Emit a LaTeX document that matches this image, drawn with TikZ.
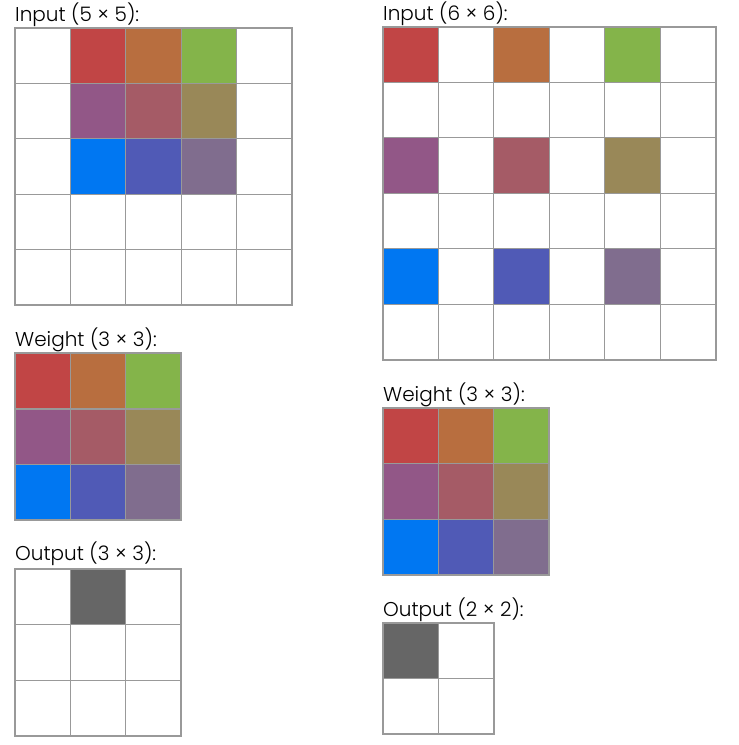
\documentclass[tikz,border=0pt]{standalone}
\usepackage{fontspec}
\IfFontExistsTF{Poppins Light}{\setmainfont{Poppins Light}}{\setmainfont{Poppins}}
\usepackage{xcolor}

\definecolor{gridgray}{HTML}{999999}
\definecolor{cred}{HTML}{C14545}
\definecolor{corange}{HTML}{B86E3F}
\definecolor{cgreen}{HTML}{84B44A}
\definecolor{cpurple}{HTML}{925787}
\definecolor{cmauve}{HTML}{A55B66}
\definecolor{colive}{HTML}{998858}
\definecolor{cblue}{HTML}{0077F2}
\definecolor{cindigo}{HTML}{505AB6}
\definecolor{cplum}{HTML}{806D8E}
\definecolor{cdark}{HTML}{666666}

\tikzset{
  inner line/.style={draw=gridgray, line width=1.3pt},
  outer line/.style={draw=gridgray, line width=2pt},
  caption/.style={anchor=base west, inner sep=0pt, font=\fontsize{20}{20}\selectfont}
}

\begin{document}
\begin{tikzpicture}[x=1pt, y=-1pt]
  \useasboundingbox (0,0) rectangle (739,745);

  % left column: stride 1
  \node[caption] (inA) at (15,21.5) {Input (5 × 5):};
  \begin{scope}[shift={(14.7,27.7)}]
    \foreach \c/\i/\j in {cred/1/0, corange/2/0, cgreen/3/0,
                          cpurple/1/1, cmauve/2/1, colive/3/1,
                          cblue/1/2, cindigo/2/2, cplum/3/2}
      \fill[\c] (\i*55.5,\j*55.5) rectangle ++(55.5,55.5);
    \foreach \k in {1,...,4} {
      \draw[inner line] (\k*55.5,0) -- (\k*55.5,277.5);
      \draw[inner line] (0,\k*55.5) -- (277.5,\k*55.5);
    }
    \draw[outer line] (0,0) rectangle (277.5,277.5);
  \end{scope}

  \node[caption] (wtA) at (15,346.7) {Weight (3 × 3):};
  \begin{scope}[shift={(14.7,353.4)}]
    \foreach \c/\i/\j in {cred/0/0, corange/1/0, cgreen/2/0,
                          cpurple/0/1, cmauve/1/1, colive/2/1,
                          cblue/0/2, cindigo/1/2, cplum/2/2}
      \fill[\c] (\i*55.5,\j*55.5) rectangle ++(55.5,55.5);
    \foreach \k in {1,2} {
      \draw[inner line] (\k*55.5,0) -- (\k*55.5,166.5);
      \draw[inner line] (0,\k*55.5) -- (166.5,\k*55.5);
    }
    \draw[outer line] (0,0) rectangle (166.5,166.5);
  \end{scope}

  \node[caption] (outA) at (15,560.7) {Output (3 × 3):};
  \begin{scope}[shift={(14.7,569.3)}]
    \fill[cdark] (55.5,0) rectangle ++(55.5,55.5);
    \foreach \k in {1,2} {
      \draw[inner line] (\k*55.5,0) -- (\k*55.5,166.5);
      \draw[inner line] (0,\k*55.5) -- (166.5,\k*55.5);
    }
    \draw[outer line] (0,0) rectangle (166.5,166.5);
  \end{scope}

  % right column: dilated input
  \node[caption] (inB) at (383,20.7) {Input (6 × 6):};
  \begin{scope}[shift={(382.7,26.7)}]
    \foreach \c/\i/\j in {cred/0/0, corange/2/0, cgreen/4/0,
                          cpurple/0/2, cmauve/2/2, colive/4/2,
                          cblue/0/4, cindigo/2/4, cplum/4/4}
      \fill[\c] (\i*55.5,\j*55.5) rectangle ++(55.5,55.5);
    \foreach \k in {1,...,5} {
      \draw[inner line] (\k*55.5,0) -- (\k*55.5,333);
      \draw[inner line] (0,\k*55.5) -- (333,\k*55.5);
    }
    \draw[outer line] (0,0) rectangle (333,333);
  \end{scope}

  \node[caption] (wtB) at (383,401.7) {Weight (3 × 3):};
  \begin{scope}[shift={(382.7,408.3)}]
    \foreach \c/\i/\j in {cred/0/0, corange/1/0, cgreen/2/0,
                          cpurple/0/1, cmauve/1/1, colive/2/1,
                          cblue/0/2, cindigo/1/2, cplum/2/2}
      \fill[\c] (\i*55.5,\j*55.5) rectangle ++(55.5,55.5);
    \foreach \k in {1,2} {
      \draw[inner line] (\k*55.5,0) -- (\k*55.5,166.5);
      \draw[inner line] (0,\k*55.5) -- (166.5,\k*55.5);
    }
    \draw[outer line] (0,0) rectangle (166.5,166.5);
  \end{scope}

  \node[caption] (outB) at (383,616.5) {Output (2 × 2):};
  \begin{scope}[shift={(382.7,623.3)}]
    \fill[cdark] (0,0) rectangle ++(55.5,55.5);
    \draw[inner line] (55.5,0) -- (55.5,111);
    \draw[inner line] (0,55.5) -- (111,55.5);
    \draw[outer line] (0,0) rectangle (111,111);
  \end{scope}
\end{tikzpicture}
\end{document}
